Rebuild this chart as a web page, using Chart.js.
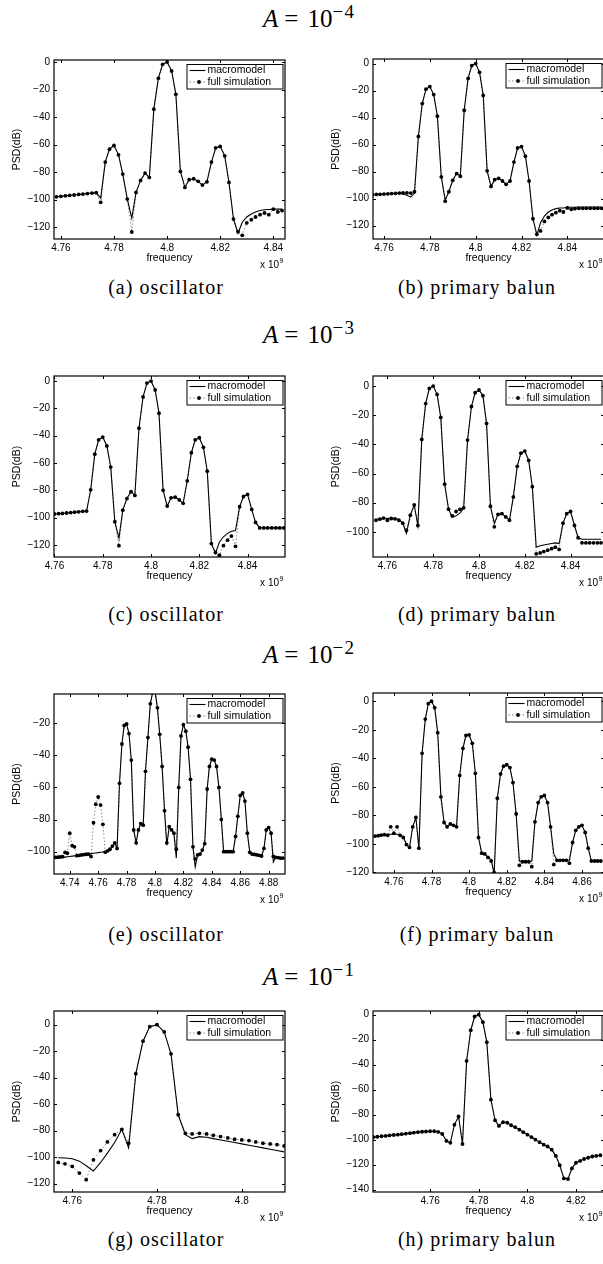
<!DOCTYPE html>
<html>
<head>
<meta charset="utf-8">
<script src="https://cdn.jsdelivr.net/npm/chart.js@4.4.0/dist/chart.umd.min.js"></script>
<style>
  html, body { margin: 0; padding: 0; background: #fff; }
  body { width: 603px; height: 1264px; position: relative; overflow: hidden; }
  canvas { position: absolute; }
  .ttl { position: absolute; font-family: "Liberation Serif", serif; font-size: 25px; line-height: 25px; white-space: nowrap; color: #000; }
  .ttl sup { position: relative; top: -9px; font-size: 19px; vertical-align: baseline; letter-spacing: 1.5px; }
  .cap { position: absolute; width: 300px; text-align: center; font-family: "Liberation Serif", serif; font-size: 20px; line-height: 20px; letter-spacing: 1px; white-space: nowrap; color: #000; }
</style>
</head>
<body>
<script>
// simulation frequency grid, GHz (axis shows x 10^9)
const freqGHz = [
  4.73, 4.7317, 4.7333, 4.735, 4.7367, 4.7383,
  4.74, 4.7417, 4.7433, 4.745, 4.7467, 4.7483,
  4.75, 4.7517, 4.7533, 4.755, 4.7567, 4.7583,
  4.76, 4.7617, 4.7633, 4.765, 4.7667, 4.7683,
  4.77, 4.7717, 4.7733, 4.775, 4.7767, 4.7783,
  4.78, 4.7817, 4.7833, 4.785, 4.7867, 4.7883,
  4.79, 4.7917, 4.7933, 4.795, 4.7967, 4.7983,
  4.8, 4.8017, 4.8033, 4.805, 4.8067, 4.8083,
  4.81, 4.8117, 4.8133, 4.815, 4.8167, 4.8183,
  4.82, 4.8217, 4.8233, 4.825, 4.8267, 4.8283,
  4.83, 4.8317, 4.8333, 4.835, 4.8367, 4.8383,
  4.84, 4.8417, 4.8433, 4.845, 4.8467, 4.8483,
  4.85, 4.8517, 4.8533, 4.855, 4.8567, 4.8583,
  4.86, 4.8617, 4.8633, 4.865, 4.8667, 4.8683,
  4.87, 4.8717, 4.8733, 4.875, 4.8767, 4.8783,
  4.88, 4.8817, 4.8833, 4.885, 4.8867, 4.8883,
  4.89
];

const seriesNames = ['macromodel', 'full simulation'];
const ampExponents = ['\u22124', '\u22123', '\u22122', '\u22121'];
const captions = ['(a) oscillator', '(b) primary balun', '(c) oscillator', '(d) primary balun',
                  '(e) oscillator', '(f) primary balun', '(g) oscillator', '(h) primary balun'];

// tick labels
const xTicks5 = [4.76, 4.78, 4.8, 4.82, 4.84];
const xTicksE = [4.74, 4.76, 4.78, 4.8, 4.82, 4.84, 4.86, 4.88];
const xTicksF = [4.76, 4.78, 4.8, 4.82, 4.84, 4.86];
const xTicksG = [4.76, 4.78, 4.8];
const xTicksH = [4.76, 4.78, 4.8, 4.82];
const yTicks120 = [0, -20, -40, -60, -80, -100, -120];
const yTicks100 = [0, -20, -40, -60, -80, -100];
const yTicksE = [-20, -40, -60, -80, -100];
const yTicks140 = [0, -20, -40, -60, -80, -100, -120, -140];

// A = 1e-4
const startA = 4.7583;
const simA = [
  -98, -97.7, -97.3, -97, -96.7, -96.3, -96, -95.7, -95.3, -95,
  -102, -72.8, -63.4, -60.7, -67.5, -81.5, -99.7, -123.6, -94.8, -86.1,
  -80.8, -83.9, -34.3, -11.9, -1.7, 0, -6.5, -23.5, -79.6, -91.2,
  -85.6, -84.9, -86.8, -89.5, -87.1, -72.8, -62.4, -61.4, -68.2, -87.6,
  -114.2, -123.4, -126, -117, -114.7, -112.7, -111, -109.8, -111, -107,
  -109, -108
];
const modelA = [
  -98, -97.7, -97.3, -97, -96.7, -96.3, -96, -95.7, -95.3, -95,
  -99, -72.8, -63.4, -60.7, -67.5, -81.5, -99.7, -113.5, -94.8, -86.1,
  -80.8, -83.9, -34.3, -11.9, -1.7, 0, -6.5, -23.5, -79.6, -91.2,
  -85.6, -84.9, -86.8, -89.5, -87.1, -72.8, -62.4, -61.4, -68.2, -87.6,
  -114.2, -124.5, -116.5, -112.7, -110.5, -109, -108, -107.4, -107.2, -107,
  -107, -107
];
const startB = 4.755;
const simB = [
  -97.2, -97, -96.9, -96.7, -96.5, -96.3, -96.2, -96, -95.9, -95.8,
  -96, -95, -54, -29.6, -19, -17, -23, -39, -84, -102,
  -95, -86.5, -81.5, -83.5, -34.6, -11, -1.5, 0, -6.5, -23.6,
  -79.5, -91, -86, -85, -87, -89.5, -87, -73, -62.5, -61.5,
  -68.6, -87, -115, -126.5, -124, -117, -114, -112, -110.5, -109,
  -110, -107, -108, -107.5, -107.3, -107.3, -107.3, -107.3, -107.3, -107.3,
  -107.3
];
const modelB = [
  -97.2, -97, -96.9, -96.7, -96.5, -96.3, -96.2, -96, -96.5, -97.5,
  -99, -96, -54, -29.6, -19, -17, -23, -39, -84, -101,
  -95, -86.5, -81.5, -83.5, -34.6, -11, -1.5, 0, -6.5, -23.6,
  -79.5, -91, -86, -85, -87, -89.5, -87, -73, -62.5, -61.5,
  -68.6, -87, -115, -127, -118, -113, -110, -108.5, -107.5, -107,
  -107, -106.5, -106.5, -106.5, -106.3, -106.3, -106.3, -106.3, -106.3, -106.3,
  -106.3
];

// A = 1e-3
const startC = 4.76;
const simC = [
  -97.3, -97.1, -96.9, -96.6, -96.3, -96, -95.7, -95.4, -95.2, -79.6,
  -53.5, -43, -41, -47.5, -63, -103, -120.5, -94.5, -86, -81,
  -83.7, -34.5, -11.6, -1.5, 0, -6.5, -23.5, -80, -91.5, -85.5,
  -85, -87, -89.5, -73, -52.5, -43, -41.5, -48.5, -66, -119,
  -125.5, -127.5, -120.5, -116.5, -113.5, -121, -92, -84.5, -83, -94,
  -103.5, -107.5, -107.5, -107.5, -107.5, -107.5, -107.5, -107.5
];
const modelC = [
  -97.3, -97.1, -96.9, -96.6, -96.3, -96, -95.7, -95.4, -95.2, -79.6,
  -53.5, -43, -41, -47.5, -63, -103, -115, -94.5, -86, -81,
  -83.7, -34.5, -11.6, -1.5, 0, -6.5, -23.5, -80, -91.5, -85.5,
  -85, -87, -89.5, -73, -52.5, -43, -41.5, -48.5, -66, -119,
  -126, -118, -114, -111.5, -110, -109.5, -92, -84.5, -83, -94,
  -103.5, -107.5, -107.5, -107.5, -107.5, -107.5, -107.5, -107.5
];
const startD = 4.755;
const simD = [
  -92, -91.3, -90.5, -92, -90.8, -91, -92, -94, -99, -88.5,
  -81.5, -95.6, -36.6, -12, -1.6, 0, -5.7, -21.5, -67.3, -84.4,
  -89, -86, -84.5, -83.5, -37, -14, -4.6, -2.7, -6.6, -25.6,
  -82.4, -96.5, -88, -87.5, -89.7, -92, -76, -55, -46, -44.6,
  -51, -69, -115, -114.4, -113.5, -112.5, -111.5, -110.5, -112, -94,
  -87.5, -86, -95.6, -104, -107.5, -107.5, -107.5, -107.5, -107.5, -107.5
];
const modelD = [
  -91.5, -91, -90.8, -90.6, -90.6, -90.8, -91.5, -94, -101, -88.5,
  -81.5, -95.6, -36.6, -12, -1.6, 0, -5.7, -21.5, -67.3, -84.4,
  -90, -89, -87, -84, -37, -14, -4.6, -2.7, -6.6, -25.6,
  -82.4, -94, -88, -87.5, -89.7, -92, -76, -55, -46, -44.6,
  -51, -69, -110.5, -109.5, -109, -108.5, -108, -107.5, -108, -94,
  -87.5, -86, -95.6, -104, -105, -105, -105, -105, -105, -105
];

// A = 1e-2
const startE = 4.73;
const simE = [
  -103.5, -103.4, -103.3, -103.1, -100.5, -101, -88.5, -96.3, -97, -102.5,
  -102.3, -102, -101.8, -101.6, -101.5, -103, -82, -70.5, -66, -71,
  -83, -100.3, -99.5, -98.5, -96.5, -94.5, -98, -57.5, -33, -21.5,
  -20.5, -26.5, -43, -86.5, -94.5, -86.5, -82.5, -83.5, -50, -29,
  -8, -1, 0, -10.5, -27, -47, -74.5, -94.5, -84.5, -86.5,
  -88.5, -98.5, -60, -28, -21, -25, -35, -55, -97, -104.5,
  -102, -101.5, -99, -95, -61, -47, -42.5, -43, -47, -60,
  -80, -100, -100, -100, -100, -100, -90.5, -78, -65, -63.5,
  -68.5, -88.5, -100.4, -101.5, -101.7, -102, -102.3, -102.7, -98, -86.5,
  -85, -88.5, -103, -103.5, -103.7, -104, -104
];
const modelE = [
  -104.2, -104, -103.8, -103.6, -103.4, -103.2, -103, -102.8, -102.6, -102.4,
  -102.2, -102, -101.8, -101.6, -101.4, -101.2, -101, -100.8, -100.6, -100.4,
  -100.2, -100, -99.5, -98.5, -96.5, -94.5, -98, -57.5, -33, -21.5,
  -20.5, -26.5, -43, -86.5, -94.5, -86.5, -82.5, -83.5, -50, -29,
  -8, -1, 0, -10.5, -27, -47, -74.5, -96, -84.5, -86.5,
  -88.5, -104, -60, -28, -21, -25, -35, -55, -97, -109.5,
  -102, -101.5, -99, -95, -61, -47, -42.5, -43, -47, -60,
  -80, -100, -100, -100, -100, -100, -90.5, -78, -65, -63.5,
  -68.5, -88.5, -100.4, -101.5, -101.7, -102, -102.3, -102.7, -98, -86.5,
  -85, -88.5, -106.5, -103.5, -103.7, -104, -104
];
const startF = 4.75;
const simF = [
  -94.5, -94.2, -93.8, -93.5, -94, -88, -92.5, -88, -94, -95.5,
  -100.5, -102.5, -88, -81.5, -103, -36.5, -12.5, -1.7, 0, -4.5,
  -22, -67, -85, -88, -86, -87, -88, -52, -33, -24,
  -23.5, -29.5, -50.5, -95.5, -106.5, -107, -109.5, -112, -120, -68,
  -51, -45.5, -44.5, -46.5, -57, -79, -115, -112.5, -112.5, -112.5,
  -116, -84.5, -71, -67, -66, -71, -88, -114.5, -111.5, -111.5,
  -111.5, -111.5, -113.5, -99, -90.5, -88, -87, -92, -103, -112,
  -112, -112, -112
];
const modelF = [
  -94.5, -94.2, -93.8, -93.5, -93.3, -93.2, -93.1, -93.2, -93.6, -95,
  -100.5, -102.5, -88, -81.5, -103, -36.5, -12.5, -1.7, 0, -4.5,
  -22, -67, -85, -88, -86, -87, -88, -52, -33, -24,
  -23.5, -29.5, -50.5, -95.5, -106.5, -107, -109.5, -111, -121, -68,
  -51, -45.5, -44.5, -46.5, -57, -79, -112, -112.5, -112.5, -112.5,
  -112, -84.5, -71, -67, -66, -71, -88, -107, -111.5, -111.5,
  -111.5, -111.5, -111.5, -99, -90.5, -88, -87, -92, -103, -112,
  -112, -112, -112
];

// A = 1e-1
const startG = 4.7567;
const simG = [
  -104, -105, -107, -112, -117, -102, -95, -88.5, -83, -79,
  -89.5, -37, -12.5, -1.5, 0, -5.5, -22, -68, -82, -82.5,
  -82, -82.5, -83.5, -84.5, -85.5, -86.5, -87, -87.5, -88.5, -89.5,
  -90, -90.5, -91.5
];
const modelG = [
  -100.5, -100.6, -101.2, -103, -106.5, -110.5, -104, -97, -89, -79,
  -93, -37, -12.5, -1.5, 0, -5.5, -22, -68, -83, -86,
  -84.5, -85, -86, -87, -88, -89, -90, -91, -92, -93,
  -94, -95, -96
];
const startH = 4.7367;
const simH = [
  -98, -97.7, -97.3, -97, -96.6, -96.3, -96, -95.6, -95.2, -94.8,
  -94.4, -94, -93.7, -93.5, -93.3, -93.3, -93.8, -95.5, -101, -102.5,
  -88, -81.5, -103.5, -37, -12.5, -1.5, 0, -6, -22, -68,
  -84.5, -89, -86, -86.5, -88.5, -90, -92, -94, -96, -98,
  -100, -102, -104, -105.5, -108, -113, -120.5, -131, -131.5, -123,
  -118.5, -117, -115.5, -114.5, -113.5, -113, -112.5
];
const modelH = [
  -98, -97.7, -97.3, -97, -96.6, -96.3, -96, -95.6, -95.2, -94.8,
  -94.4, -94, -93.7, -93.5, -93.3, -93.3, -93.8, -95.5, -101, -102.5,
  -88, -81.5, -103.5, -37, -12.5, -1.5, 0, -6, -22, -68,
  -84.5, -89, -86, -86.5, -88.5, -90, -92, -94, -96, -98,
  -100, -102, -104, -105.5, -108, -113, -120.5, -131, -131.5, -123,
  -118.5, -117, -115.5, -114.5, -113.5, -113, -112.5
];

// panel placement (canvas left/top/height) and axis limits
const panels = [
  { left: 0,   top: 50,   h: 225, xr: [4.7574, 4.8444], xt: xTicks5, yr: [-128.7, 1.45], yt: yTicks120, start: startA, sim: simA, model: modelA },
  { left: 319, top: 49,   h: 226, xr: [4.7552, 4.856],  xt: xTicks5, yr: [-130, 3.4],    yt: yTicks120, start: startB, sim: simB, model: modelB },
  { left: 0,   top: 366,  h: 227, xr: [4.7598, 4.8555], xt: xTicks5, yr: [-128.8, 3.7],  yt: yTicks120, start: startC, sim: simC, model: modelC },
  { left: 319, top: 366,  h: 227, xr: [4.7537, 4.8546], xt: xTicks5, yr: [-117.2, 6.9],  yt: yTicks100, start: startD, sim: simD, model: modelD },
  { left: 0,   top: 684,  h: 226, xr: [4.7289, 4.8915], xt: xTicksE, yr: [-113.9, -1.9], yt: yTicksE,   start: startE, sim: simE, model: modelE },
  { left: 319, top: 683,  h: 226, xr: [4.7489, 4.8717], xt: xTicksF, yr: [-120.4, 5.8],  yt: yTicks120, start: startF, sim: simF, model: modelF },
  { left: 0,   top: 1001, h: 227, xr: [4.7557, 4.8102], xt: xTicksG, yr: [-126.3, 10.3], yt: yTicks120, start: startG, sim: simG, model: modelG },
  { left: 319, top: 1001, h: 227, xr: [4.7365, 4.8315], xt: xTicksH, yr: [-141.9, 2.9],  yt: yTicks140, start: startH, sim: simH, model: modelH }
];

const sans = '"Liberation Sans", Arial, Helvetica, sans-serif';
Chart.defaults.font.family = sans;
Chart.defaults.color = '#000';

function points(start, values) {
  const i0 = freqGHz.findIndex(f => Math.abs(f - start) < 1e-9);
  return values.map((v, i) => ({ x: freqGHz[i0 + i], y: v }));
}

// box, inward ticks, legend and the x 10^9 multiplier, Matlab style
const framePlugin = {
  id: 'frame',
  afterDatasetsDraw(chart) {
    const { ctx, chartArea: a } = chart;
    const xs = chart.scales.x, ys = chart.scales.y;
    ctx.save();
    ctx.strokeStyle = '#000';
    ctx.lineWidth = 1;
    ctx.beginPath();
    xs.ticks.forEach(t => {
      const px = Math.round(xs.getPixelForValue(t.value)) + 0.5;
      ctx.moveTo(px, a.bottom); ctx.lineTo(px, a.bottom - 3);
      ctx.moveTo(px, a.top); ctx.lineTo(px, a.top + 3);
    });
    ys.ticks.forEach(t => {
      const py = Math.round(ys.getPixelForValue(t.value)) + 0.5;
      ctx.moveTo(a.left, py); ctx.lineTo(a.left + 3, py);
      ctx.moveTo(a.right, py); ctx.lineTo(a.right - 3, py);
    });
    ctx.stroke();
    ctx.lineWidth = 1.2;
    ctx.strokeRect(a.left, a.top, a.right - a.left, a.bottom - a.top);

    // legend
    const w = 96, h = 24.5;
    const x0 = a.right - 2.5 - w, y0 = a.top + 4;
    ctx.fillStyle = '#fff';
    ctx.fillRect(x0, y0, w, h);
    ctx.lineWidth = 1;
    ctx.strokeRect(x0 + 0.5, y0 + 0.5, w, h);
    const r1 = y0 + 6.5, r2 = y0 + 18;
    ctx.lineWidth = 1.1;
    ctx.beginPath(); ctx.moveTo(x0 + 3, r1); ctx.lineTo(x0 + 19, r1); ctx.stroke();
    ctx.strokeStyle = '#8a8a8a';
    ctx.lineWidth = 1;
    ctx.setLineDash([1.5, 2]);
    ctx.beginPath(); ctx.moveTo(x0 + 3, r2); ctx.lineTo(x0 + 19, r2); ctx.stroke();
    ctx.setLineDash([]);
    ctx.fillStyle = '#000';
    ctx.beginPath(); ctx.arc(x0 + 12.5, r2, 1.9, 0, 2 * Math.PI); ctx.fill();
    ctx.font = '10.5px ' + sans;
    ctx.textBaseline = 'middle';
    ctx.textAlign = 'left';
    ctx.fillText(seriesNames[0], x0 + 21, r1);
    ctx.fillText(seriesNames[1], x0 + 21, r2);

    // x 10^9
    ctx.font = '10px ' + sans;
    ctx.textAlign = 'right';
    ctx.fillText('x 10', a.right - 6, a.bottom + 26);
    ctx.font = '7px ' + sans;
    ctx.textAlign = 'left';
    ctx.fillText('9', a.right - 5.5, a.bottom + 22);
    ctx.restore();
  }
};

panels.forEach(p => {
  const cv = document.createElement('canvas');
  cv.width = 300;
  cv.height = p.h;
  cv.style.left = p.left + 'px';
  cv.style.top = p.top + 'px';
  document.body.appendChild(cv);

  new Chart(cv, {
    type: 'line',
    data: {
      datasets: [
        { label: seriesNames[0], data: points(p.start, p.model), borderColor: '#000', borderWidth: 1.1,
          pointRadius: 0, tension: 0, fill: false },
        { label: seriesNames[1], data: points(p.start, p.sim), borderColor: '#8a8a8a', borderWidth: 1,
          borderDash: [1.5, 2], pointRadius: 1.9, pointBackgroundColor: '#000', pointBorderWidth: 0,
          tension: 0, fill: false }
      ]
    },
    options: {
      responsive: false,
      animation: false,
      events: [],
      layout: { padding: { left: 0, right: 15, top: 10, bottom: 0 } },
      plugins: { legend: { display: false }, tooltip: { enabled: false } },
      scales: {
        x: {
          type: 'linear', min: p.xr[0], max: p.xr[1],
          afterFit: s => { s.height = 36; },
          afterBuildTicks: s => { s.ticks = p.xt.map(v => ({ value: v })); },
          grid: { display: false, drawTicks: false },
          border: { display: false },
          ticks: { autoSkip: false, maxRotation: 0, padding: 3, color: '#000',
                   font: { size: 10 }, callback: v => String(v) },
          title: { display: true, text: 'frequency', color: '#000', font: { size: 10.5 },
                   padding: { top: 0, bottom: 10.7 } }
        },
        y: {
          type: 'linear', min: p.yr[0], max: p.yr[1],
          afterFit: s => { s.width = 54; },
          afterBuildTicks: s => { s.ticks = p.yt.map(v => ({ value: v })); },
          grid: { display: false, drawTicks: false },
          border: { display: false },
          ticks: { autoSkip: false, padding: 4, color: '#000', font: { size: 10 },
                   callback: v => String(v).replace('-', '\u2212') },
          title: { display: true, text: 'PSD(dB)', color: '#000', font: { size: 10.5 },
                   padding: { top: 10.4, bottom: 0 } }
        }
      }
    },
    plugins: [framePlugin]
  });
});

// row titles and sub-captions
const titleTops = [5.8, 321.8, 642.1, 964.1];
ampExponents.forEach((e, i) => {
  const d = document.createElement('div');
  d.className = 'ttl';
  d.style.left = '263px';
  d.style.top = titleTops[i] + 'px';
  d.innerHTML = '<i>A</i><span style="margin:0 9px 0 6px">=</span>10<sup>' + e + '</sup>';
  document.body.appendChild(d);
});
const capTops = [276.6, 603.6, 923.6, 1228.6];
captions.forEach((c, i) => {
  const d = document.createElement('div');
  d.className = 'cap';
  d.style.left = (i % 2 === 0 ? 16 : 327) + 'px';
  d.style.top = capTops[Math.floor(i / 2)] + 'px';
  d.textContent = c;
  document.body.appendChild(d);
});
</script>
</body>
</html>
